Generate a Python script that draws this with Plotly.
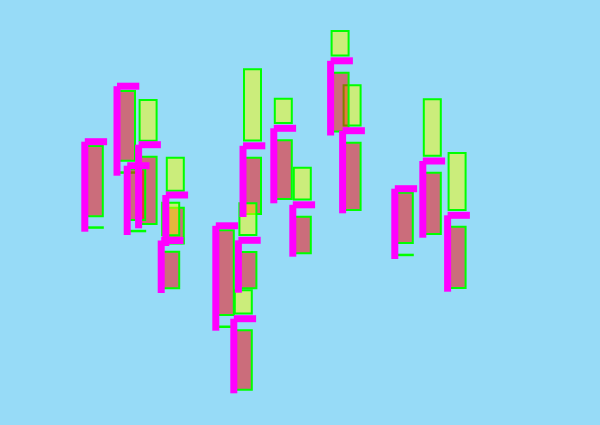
import plotly.graph_objects as go

# 各グループ（描画順）: 位置, Γ の角, Γ の下端, 赤バー, 黄バー, 平らなバー
pos = [4.24, 5.85, 6.93, 6.36, 8.29, 8.06, 12.15, 10.79, 11.69, 11.92, 13.69, 14.64, 17.13, 16.53, 19.74, 21.14, 22.38]
anchor = [56.66, 67.76, 56.06, 51.86, 46.0, 36.9, 55.84, 39.84, 21.26, 36.94, 59.34, 44.04, 58.86, 72.84, 47.26, 52.8, 41.94]
low = [38.66, 49.86, 39.34, 38.0, 35.8, 26.4, 41.6, 18.86, 6.34, 26.46, 44.34, 33.66, 42.34, 57.9, 33.2, 37.46, 26.66]
red_top = [55.8, 66.8, 53.66, 51.14, 43.46, 34.66, 53.46, 38.94, 18.94, 34.6, 56.94, 41.66, 56.46, 70.46, 46.46, 50.46, 39.66]
red_bottom = [41.74, 52.86, 40.2, 41.0, 36.3, 27.34, 42.2, 22.0, 7.06, 27.34, 45.2, 34.34, 43.0, 58.7, 36.4, 38.2, 27.4]
yellow_top = [None, None, 65.0, None, 53.46, 44.46, 71.14, None, 26.94, 44.34, 65.26, 51.46, 67.94, 78.8, None, 65.14, 54.4]
yellow_bottom = [None, None, 56.86, None, 46.86, 37.96, 56.9, None, 22.32, 38.0, 60.4, 45.1, 59.92, 73.9, None, 53.86, 43.0]
flat = [39.44, 50.44, None, 38.74, None, None, None, 19.6, None, None, None, None, None, None, 33.96, None, None]

BG = '#97dbf7'
BAR_LINE = dict(color='#00ff00', width=2)
BAR_KW = dict(offset=0.05, width=0.85, hoverinfo='skip', showlegend=False)
ERR_KW = dict(type='data', symmetric=False, color='#ff00ff', thickness=7, width=0)

fig = go.Figure()
for i in range(len(pos)):
    if yellow_top[i] is not None:
        fig.add_trace(go.Bar(
            x=[pos[i]], base=[yellow_bottom[i]], y=[yellow_top[i] - yellow_bottom[i]],
            marker=dict(color='rgba(255,255,0,0.5)', line=BAR_LINE), **BAR_KW))
    fig.add_trace(go.Bar(
        x=[pos[i]], base=[red_bottom[i]], y=[red_top[i] - red_bottom[i]],
        marker=dict(color='rgba(255,0,0,0.5)', line=BAR_LINE), **BAR_KW))
    if flat[i] is not None:
        # ほぼ高さ0のバー -> 緑の線
        fig.add_trace(go.Bar(
            x=[pos[i]], base=[flat[i]], y=[0.1],
            marker=dict(color='rgba(255,0,0,0.5)', line=BAR_LINE), **BAR_KW))
    # Γ 形 = 下向き error_y + 右向き error_x
    fig.add_trace(go.Scatter(
        x=[pos[i]], y=[anchor[i]], mode='markers',
        marker=dict(size=1, color='rgba(0,0,0,0)'),
        error_y=dict(array=[0], arrayminus=[anchor[i] - low[i]], **ERR_KW),
        error_x=dict(array=[1.115], arrayminus=[0], **ERR_KW),
        hoverinfo='skip', showlegend=False,
    ))

fig.update_layout(
    width=600, height=425,
    margin=dict(l=0, r=0, t=0, b=0),
    paper_bgcolor=BG, plot_bgcolor=BG,
    barmode='overlay',
    showlegend=False,
    xaxis=dict(range=[0, 30], visible=False),
    yaxis=dict(range=[0, 85], visible=False),
)

fig.write_html(
    "out.html",
    config={'displayModeBar': False},
    post_script="document.body.style.margin='0px'; document.body.style.background='%s';" % BG,
)
